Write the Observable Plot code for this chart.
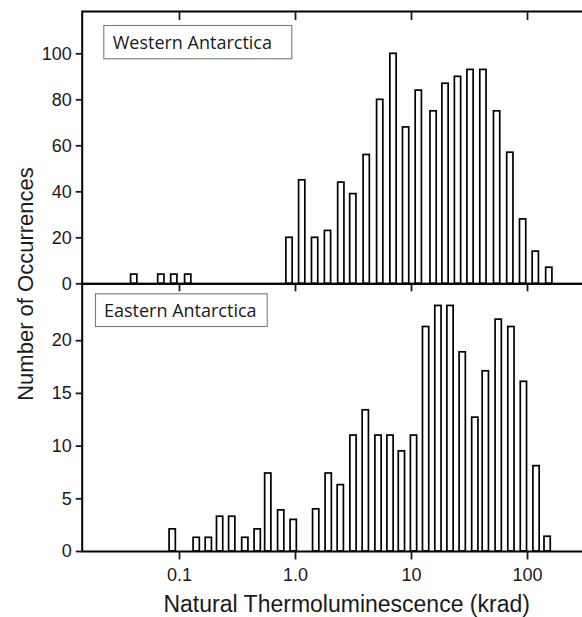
<!DOCTYPE html>
<html><head><meta charset="utf-8">
<script src="https://cdn.jsdelivr.net/npm/d3@7"></script>
<script src="https://cdn.jsdelivr.net/npm/@observablehq/plot@0.6"></script>
<style>
html,body{margin:0;padding:0;background:#fff;}
#wrap{position:relative;width:582px;height:617px;overflow:hidden;background:#fff;}
#wrap svg{position:absolute;left:0;max-width:none !important;background:transparent !important;}
</style></head><body><div id="wrap"></div>
<script>
// ---- data (bin centres in krad, counts) ----
const westCenters = [0.0407, 0.0697, 0.0902, 0.1189,
  0.888, 1.142, 1.476, 1.906, 2.482, 3.150, 4.110, 5.373, 6.996, 8.983,
  11.56, 15.50, 19.64, 25.17, 32.26, 41.68, 54.69, 71.09, 91.65, 117.9, 154.1];
const westCounts = [4, 4, 4, 4,
  20, 45, 20, 23, 44, 39, 56, 80, 100, 68,
  84, 75, 87, 90, 93, 93, 75, 57, 28, 14, 7];
const eastCenters = [0.0874, 0.1407, 0.1789, 0.2239, 0.2847, 0.3693, 0.4722, 0.5825, 0.7529, 0.9649,
  1.508, 1.933, 2.457, 3.162, 4.036, 5.195, 6.592, 8.264, 10.51, 13.36,
  17.06, 21.69, 27.63, 35.48, 43.71, 56.46, 72.64, 93.11, 119.6, 149.1];
const eastCounts = [2.1, 1.3, 1.3, 3.3, 3.3, 1.3, 2.1, 7.4, 3.9, 3.0,
  4.0, 7.4, 6.3, 11.0, 13.4, 11.0, 11.0, 9.5, 11.0, 21.3,
  23.3, 23.3, 18.9, 12.7, 17.1, 22.0, 21.3, 16.1, 8.1, 1.4];
const xTicks = [0.1, 1, 10, 100];
const xTickLabels = ["0.1", "1.0", "10", "100"];
const westYTicks = [0, 20, 40, 60, 80, 100];
const eastYTicks = [0, 5, 10, 15, 20];
const panelNames = ["Western Antarctica", "Eastern Antarctica"];
const xTitle = "Natural Thermoluminescence (krad)";
const yTitle = "Number of Occurrences";

const west = westCenters.map((c, i) => ({c, n: westCounts[i]}));
const east = eastCenters.map((c, i) => ({c, n: eastCounts[i]}));

const HALF = 1.064; // half bar width as a ratio on the log axis
const font = "'Liberation Sans', Arial, sans-serif";
const xScale = {type: "log", domain: [0.014496, 328.97], label: null};
const blank = () => "";

function bars(data) {
  return Plot.rectY(data, {x1: d => d.c / HALF, x2: d => d.c * HALF, y1: 0, y2: "n",
    fill: "white", stroke: "black", strokeWidth: 1.7});
}

const topPlot = Plot.plot({
  width: 587, height: 300, marginTop: 11, marginBottom: 16.7, marginLeft: 81.7, marginRight: 0,
  x: xScale, y: {domain: [0, 118.4], label: null},
  style: {fontFamily: font, background: "transparent", color: "#1a1a1a"},
  marks: [
    bars(west),
    Plot.frame({stroke: "black", strokeWidth: 2}),
    Plot.axisY({ticks: westYTicks, tickSize: 6, tickPadding: 4.5, fontSize: 18, strokeWidth: 1.8, label: null}),
    Plot.axisY({anchor: "right", ticks: westYTicks, tickSize: 6, dx: -6, tickFormat: blank, label: null, stroke: "#999", strokeWidth: 1.2}),
    Plot.axisX({anchor: "top", ticks: xTicks, tickSize: 8, dy: 8, tickFormat: blank, label: null, strokeWidth: 1.8}),
    Plot.axisX({anchor: "bottom", ticks: xTicks, tickSize: 8, tickFormat: blank, label: null, strokeWidth: 1.8})
  ]
});

const botPlot = Plot.plot({
  width: 587, height: 342, marginTop: 8.3, marginBottom: 66, marginLeft: 81.7, marginRight: 0,
  x: xScale, y: {domain: [0, 25.4], label: null},
  style: {fontFamily: font, background: "transparent", color: "#1a1a1a"},
  marks: [
    bars(east),
    Plot.frame({stroke: "black", strokeWidth: 2}),
    Plot.axisY({ticks: eastYTicks.slice(1), tickSize: 6, tickPadding: 4.5, fontSize: 18, strokeWidth: 1.8, label: null}),
    Plot.axisY({ticks: [0], tickSize: 6, tickPadding: 4.5, fontSize: 18, strokeWidth: 1.8, label: null}),
    Plot.axisY({anchor: "right", ticks: eastYTicks, tickSize: 6, dx: -6, tickFormat: blank, label: null, stroke: "#999", strokeWidth: 1.2}),
    Plot.axisX({anchor: "bottom", ticks: xTicks, tickSize: 8.5, tickPadding: 8.5, fontSize: 18, strokeWidth: 1.8,
      tickFormat: d => xTickLabels[xTicks.indexOf(d)], label: null})
  ]
});

const wrap = document.getElementById("wrap");
topPlot.style.top = "0px";
botPlot.style.top = "275px";
wrap.appendChild(topPlot);
wrap.appendChild(botPlot);

// overlay: panel name boxes and axis titles
const ov = d3.create("svg").attr("width", 582).attr("height", 617).style("top", "0px");
const boxes = [
  {x: 103.8, y: 25.5, w: 188, h: 33.3, tx: 112.7, ty: 48.9},
  {x: 95.5, y: 293.8, w: 171.7, h: 32.7, tx: 104, ty: 316.7}
];
boxes.forEach((b, i) => {
  ov.append("rect").attr("x", b.x).attr("y", b.y).attr("width", b.w).attr("height", b.h)
    .attr("fill", "white").attr("stroke", "#7a7a7a").attr("stroke-width", 1.1);
  ov.append("text").attr("x", b.tx).attr("y", b.ty).attr("font-family", "'Open Sans', sans-serif")
    .attr("font-size", 18).attr("fill", "#1a1a1a").text(panelNames[i]);
});
ov.append("text").attr("transform", "translate(33,284) rotate(-90)").attr("text-anchor", "middle")
  .attr("font-family", font).attr("font-size", 22).attr("fill", "#1a1a1a").text(yTitle);
ov.append("text").attr("x", 346.7).attr("y", 612).attr("text-anchor", "middle")
  .attr("font-family", font).attr("font-size", 23).attr("fill", "#1a1a1a").text(xTitle);
wrap.appendChild(ov.node());
</script>
</body></html>
